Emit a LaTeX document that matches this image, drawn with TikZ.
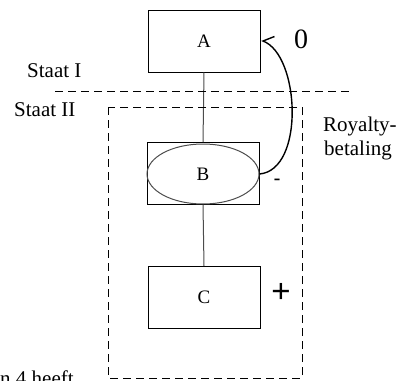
\documentclass[tikz,border=0pt]{standalone}
\usepackage{fontspec}
\setmainfont{Liberation Serif}
\newfontfamily\sansf{Liberation Sans}
\usetikzlibrary{arrows.meta,shapes.geometric}
\begin{document}
\begin{tikzpicture}[x=1pt,y=-1pt,
  box/.style={draw=black,line width=1pt,minimum width=112pt,minimum height=62pt,inner sep=0pt,font=\fontsize{19}{21}\selectfont},
  link/.style={draw=black!70,line width=1pt},
  dsh/.style={draw=black,line width=1pt,dash pattern=on 8pt off 5pt},
  lbl/.style={font=\fontsize{21}{24}\selectfont,inner sep=0pt}]
\useasboundingbox (0,0) rectangle (400,381);
\clip (0,0) rectangle (400,381);
\node[box] (A) at (204,41) {A};
\node[box] (Bb) at (203,173.5) {};
\node[draw=black!70,line width=1pt,ellipse,minimum width=112pt,minimum height=60pt,inner sep=0pt,font=\fontsize{19}{21}\selectfont] (B) at (203,174) {B};
\node[box] (C) at (204,297.5) {C};
\draw[link] (A.south) -- (Bb.north);
\draw[link] (Bb.south) -- (C.north);
\coordinate (L1) at (55,91);
\coordinate (L2) at (352,91);
\draw[dsh] (L1) -- (L2);
\coordinate (D1) at (108,107);
\coordinate (D2) at (302,378);
\draw[dsh] (D1) rectangle (D2);
\node[lbl,anchor=base west] (s1) at (27,77) {Staat I};
\node[lbl,anchor=base west] (s2) at (14,116) {Staat II};
\node[lbl,anchor=base west] (r1) at (323,131) {Royalty-};
\node[lbl,anchor=base west] (r2) at (324,155) {betaling};
\node[font=\fontsize{28}{30}\selectfont,inner sep=0pt] (zero) at (301,39) {0};
\node[font=\sansf\fontsize{21}{24}\selectfont,inner sep=0pt] (minus) at (277,182) {-};
\node[font=\sansf\fontsize{33}{36}\selectfont,inner sep=0pt] (plus) at (281,293) {+};
\node[lbl,anchor=base west] (bt) at (0,385) {n 4 heeft};
\coordinate (tip) at (263,41);
\coordinate (barb) at (274.5,36.5);
\draw[line width=1.4pt,line join=miter] (B.east) .. controls (305,170) and (300,55) .. (tip) -- (barb);
\end{tikzpicture}
\end{document}
